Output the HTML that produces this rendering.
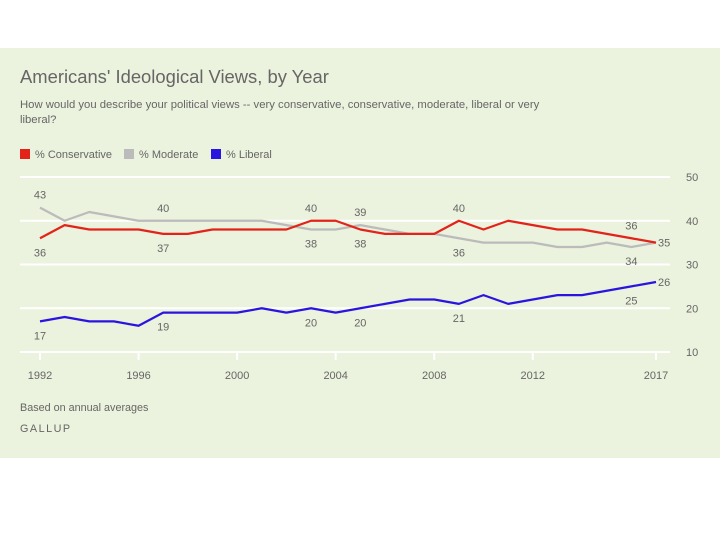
<!DOCTYPE html>
<html><head><meta charset="utf-8"><style>
body{margin:0;background:#fff;}
#wrap{position:relative;width:720px;height:540px;font-family:"Liberation Sans",sans-serif;}
#band{position:absolute;left:0;top:48px;width:720px;height:410px;background:#ebf2dd;}
svg{position:absolute;left:0;top:0;}
</style></head><body>
<div id="wrap">
<div id="band"></div>
<svg id="chart" width="720" height="540">
<text x="20" y="83" font-size="18.4" fill="#666">Americans' Ideological Views, by Year</text>
<text x="20" y="108" font-size="11.3" fill="#666">How would you describe your political views -- very conservative, conservative, moderate, liberal or very</text>
<text x="20" y="123" font-size="11.3" fill="#666">liberal?</text>
<g>
<rect x="20" y="149" width="10" height="10" fill="#e3231a"/>
<text x="35" y="158" font-size="11" fill="#666">% Conservative</text>
<rect x="124" y="149" width="10" height="10" fill="#bbbbbb"/>
<text x="139" y="158" font-size="11" fill="#666">% Moderate</text>
<rect x="211" y="149" width="10" height="10" fill="#2a15e0"/>
<text x="226" y="158" font-size="11" fill="#666">% Liberal</text>
</g>
<text x="20" y="411" font-size="10.8" fill="#666">Based on annual averages</text>
<text x="20" y="432" font-size="10.8" fill="#666" letter-spacing="1.5">GALLUP</text>
</svg>
</div>
<script>
const years=[1992,1993,1994,1995,1996,1997,1998,1999,2000,2001,2002,2003,2004,2005,2006,2007,2008,2009,2010,2011,2012,2013,2014,2015,2016,2017];
const conservative=[36,39,38,38,38,37,37,38,38,38,38,40,40,38,37,37,37,40,38,40,39,38,38,37,36,35];
const moderate=[43,40,42,41,40,40,40,40,40,40,39,38,38,39,38,37,37,36,35,35,35,34,34,35,34,35];
const liberal=[17,18,17,17,16,19,19,19,19,20,19,20,19,20,21,22,22,21,23,21,22,23,23,24,25,26];
const yTicks=[10,20,30,40,50];
const xTicks=[1992,1996,2000,2004,2008,2012,2017];
const annYears=[1992,1997,2003,2005,2009,2016];
const NS='http://www.w3.org/2000/svg';
const svg=document.getElementById('chart');
const x=y=>40+(y-1992)*(656-40)/25;
const yv=v=>352-(v-10)*(352-177)/40;
function el(t,a){const e=document.createElementNS(NS,t);for(const k in a)e.setAttribute(k,a[k]);svg.appendChild(e);return e;}
yTicks.forEach(t=>{
 const g=el('line',{x1:20,x2:670,y1:yv(t),y2:yv(t),stroke:'#fff','stroke-width':2});
 
 
 const l=el('text',{x:686,y:yv(t)+4,'font-size':11,fill:'#666'});l.textContent=t;
 
 
});
xTicks.forEach(t=>{
 const k=el('line',{x1:x(t),x2:x(t),y1:yv(10),y2:yv(10)+8,stroke:'#fff','stroke-width':2});
 
 
 const l=el('text',{x:x(t),y:379,'font-size':11,fill:'#666','text-anchor':'middle'});l.textContent=t;
 
 
});
function line(vals,color,name){
 const p=el('polyline',{points:vals.map((v,i)=>x(years[i])+','+yv(v)).join(' '),fill:'none',stroke:color,'stroke-width':2.2,'stroke-linejoin':'round'});
 
 
}
line(moderate,'#bbbbbb','moderate-line');
line(conservative,'#e3231a','conservative-line');
line(liberal,'#2a15e0','liberal-line');
function label(vals,name,above){
 annYears.forEach(yr=>{
  const i=years.indexOf(yr);const v=vals[i];
  const t=el('text',{x:x(yr),y:above?yv(v)-9:yv(v)+18,'font-size':11,fill:'#666','text-anchor':'middle'});
  t.textContent=v;
  
  
 });
}
annYears.forEach(yr=>{
 const i=years.indexOf(yr);const c=conservative[i],m=moderate[i];
 [[c,'conservative',c>=m],[m,'moderate',m>c]].forEach(([v,n,up])=>{
  const t=el('text',{x:x(yr),y:up?yv(v)-9:yv(v)+18,'font-size':11,fill:'#666','text-anchor':'middle'});
  t.textContent=v;
  
  
 });
});
label(liberal,'liberal',false);
const last=years.length-1;
[[conservative[last],'conservative'],[liberal[last],'liberal']].forEach(([v,n])=>{
 const t=el('text',{x:x(2017)+2,y:yv(v)+4,'font-size':11,fill:'#666'});
 t.textContent=v;
 
 
});
</script>
</body></html>
